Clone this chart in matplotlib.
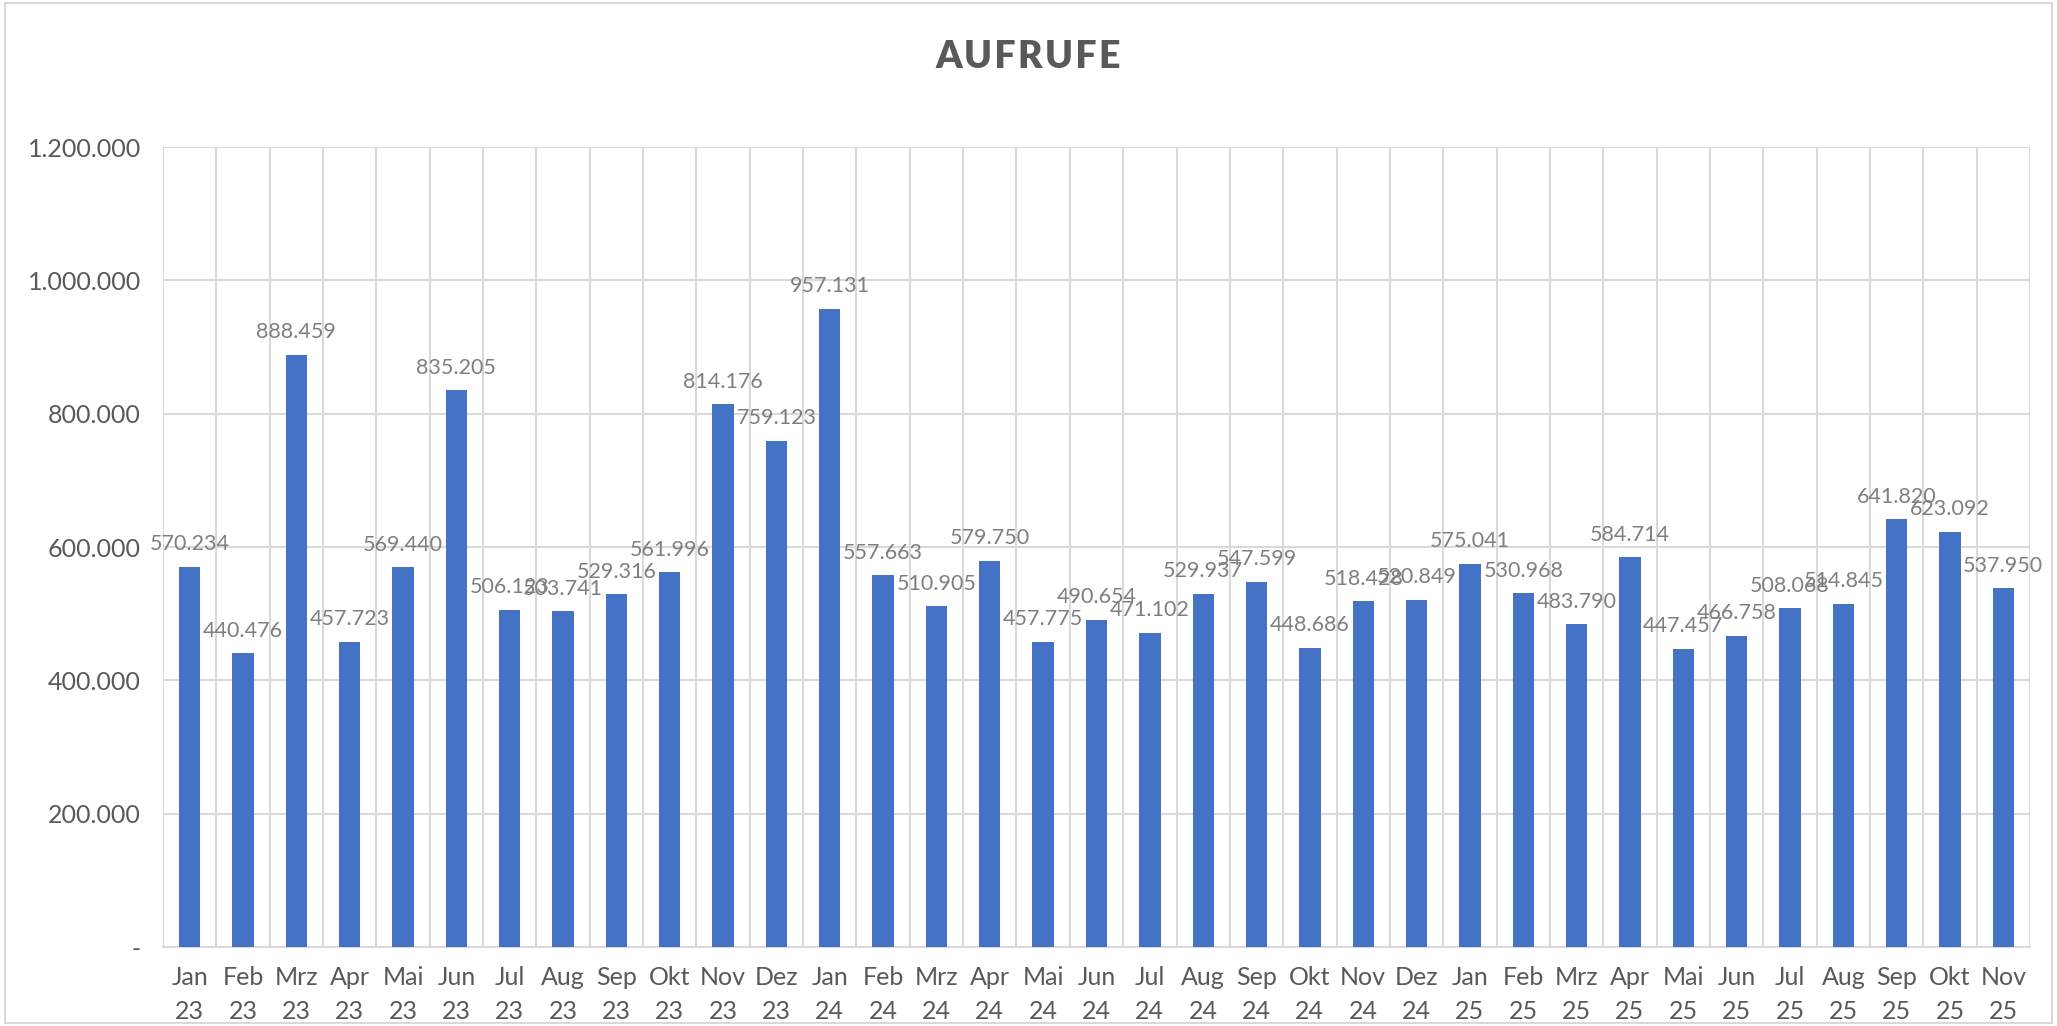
import matplotlib
matplotlib.use("Agg")
import matplotlib.pyplot as plt
from matplotlib.ticker import FuncFormatter, MultipleLocator

plt.rcParams['font.family'] = ['Lato', 'DejaVu Sans']

months = ["Jan", "Feb", "Mrz", "Apr", "Mai", "Jun", "Jul", "Aug", "Sep", "Okt", "Nov", "Dez"]
years = ["23", "24", "25"]
labels = [f"{m}\n{y}" for y in years for m in months][:35]

aufrufe = [570234, 440476, 888459, 457723, 569440, 835205, 506123, 503741, 529316, 561996, 814176, 759123,
           957131, 557663, 510905, 579750, 457775, 490654, 471102, 529937, 547599, 448686, 518428, 520849,
           575041, 530968, 483790, 584714, 447457, 466758, 508068, 514845, 641820, 623092, 537950]


def de_format(v, pos=None):
    if v == 0:
        return "-"
    return f"{int(v):,}".replace(",", ".")


fig = plt.figure(figsize=(20.57, 10.26), dpi=100)
ax = fig.add_axes([163 / 2057, 1 - 947 / 1026, (2030 - 163) / 2057, (947 - 147) / 1026])

grid_col = "#d9d9d9"
text_col = "#595959"

x = list(range(len(aufrufe)))
ax.bar(x, aufrufe, width=0.4, color="#4472C4", zorder=3)

for xi, v in zip(x, aufrufe):
    ax.annotate(de_format(v), (xi, v), xytext=(0, 9), textcoords="offset points",
                ha="center", va="bottom", fontsize=15.5, color="#7f7f7f", zorder=4)

ax.set_xlim(-0.5, len(aufrufe) - 0.5)
ax.set_ylim(0, 1200000)
ax.yaxis.set_major_locator(MultipleLocator(200000))
ax.yaxis.set_major_formatter(FuncFormatter(de_format))
ax.set_xticks(x)
ax.set_xticklabels(labels, linespacing=1.55)
ax.set_xticks([i - 0.5 for i in range(len(aufrufe) + 1)], minor=True)

ax.grid(axis="y", which="major", color=grid_col, linewidth=1.5, zorder=0)
ax.grid(axis="x", which="minor", color=grid_col, linewidth=1.5, zorder=0)
ax.tick_params(axis="both", which="both", length=0, labelsize=18, colors=text_col)
ax.tick_params(axis="x", pad=14)
ax.tick_params(axis="y", pad=16)
for s in ["top", "right", "left"]:
    ax.spines[s].set_visible(False)
ax.spines["bottom"].set_color(grid_col)
ax.spines["bottom"].set_linewidth(1.5)

# Titel mit leichtem Buchstabenabstand
fig.text(0.5, 1 - 57 / 1026, "\u200a".join("AUFRUFE"), ha="center", va="center",
         fontsize=27, fontweight="heavy", color=text_col)

# Rahmen um das Diagramm
border = plt.Rectangle((5 / 2057, 3 / 1026), 1 - 10 / 2057, 1 - 6 / 1026, transform=fig.transFigure,
                       fill=False, edgecolor=grid_col, linewidth=1.5)
fig.patches.append(border)

fig.savefig("out.png", dpi=100)
